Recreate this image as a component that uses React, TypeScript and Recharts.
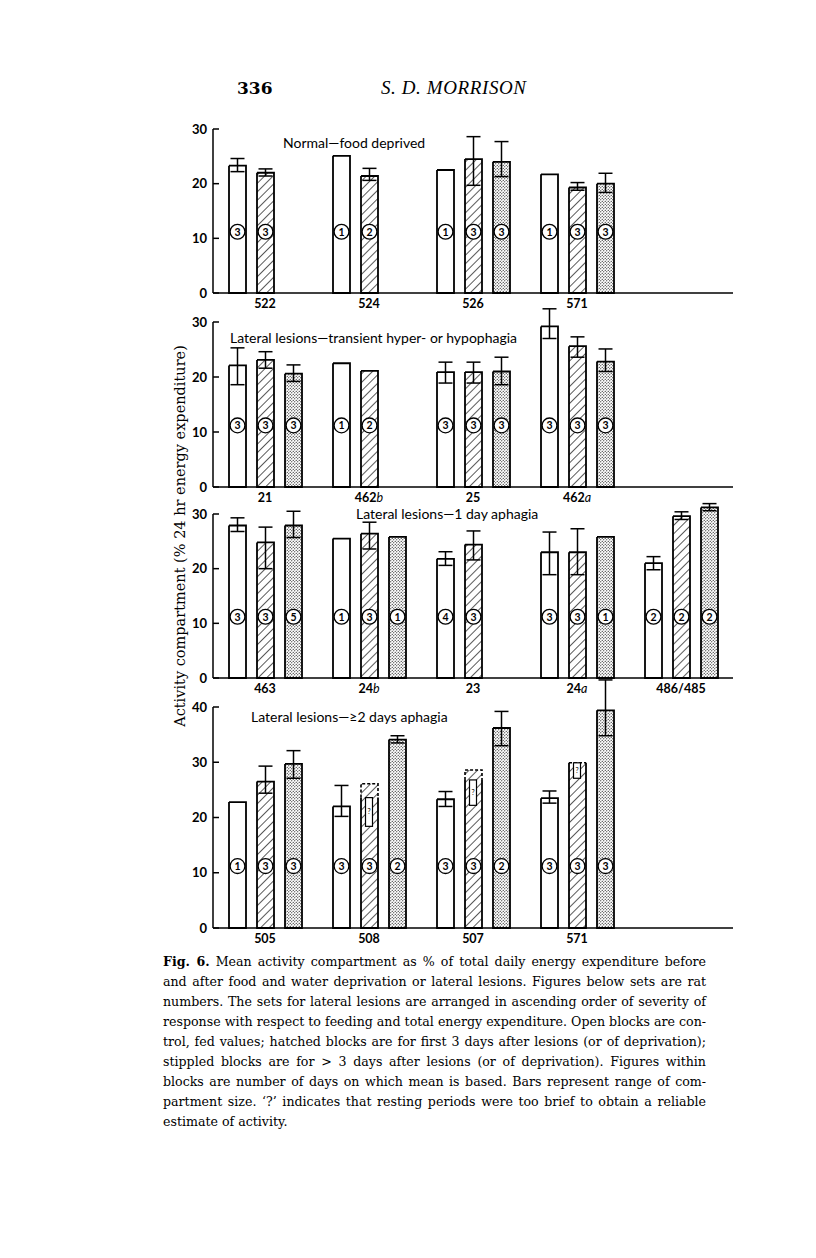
import React from 'react';
import { BarChart, Bar, XAxis, YAxis, ErrorBar } from 'recharts';

type Num = number | null;

// level (in axis units) at which the "days" circles sit
const CIRCLE_AT = 11.2;

// ---- Normal - food deprived
const p1Rats = ['522', '524', '526', '571', ''];
const p1Open: Num[] = [23.3, 25.1, 22.5, 21.7, null];
const p1OpenLo: Num[] = [22.2, null, null, null, null];
const p1OpenHi: Num[] = [24.6, null, null, null, null];
const p1Hatched: Num[] = [22.0, 21.4, 24.5, 19.3, null];
const p1HatchedLo: Num[] = [21.4, 20.6, 19.7, 18.8, null];
const p1HatchedHi: Num[] = [22.7, 22.8, 28.6, 20.2, null];
const p1Stippled: Num[] = [null, null, 24.0, 20.0, null];
const p1StippledLo: Num[] = [null, null, 21.3, 18.4, null];
const p1StippledHi: Num[] = [null, null, 27.7, 21.9, null];
const p1DaysOpen: Num[] = [3, 1, 1, 1, null];
const p1DaysHatched: Num[] = [3, 2, 3, 3, null];
const p1DaysStippled: Num[] = [null, null, 3, 3, null];

// ---- Lateral lesions - transient hyper- or hypophagia
const p2Rats = ['21', '462b', '25', '462a', ''];
const p2Open: Num[] = [22.1, 22.5, 20.9, 29.2, null];
const p2OpenLo: Num[] = [18.6, null, 18.9, 27.0, null];
const p2OpenHi: Num[] = [25.3, null, 22.7, 32.4, null];
const p2Hatched: Num[] = [23.1, 21.1, 20.9, 25.6, null];
const p2HatchedLo: Num[] = [21.6, null, 18.9, 23.6, null];
const p2HatchedHi: Num[] = [24.6, null, 22.7, 27.3, null];
const p2Stippled: Num[] = [20.6, null, 21.0, 22.8, null];
const p2StippledLo: Num[] = [19.2, null, 18.6, 21.0, null];
const p2StippledHi: Num[] = [22.2, null, 23.6, 25.1, null];
const p2DaysOpen: Num[] = [3, 1, 3, 3, null];
const p2DaysHatched: Num[] = [3, 2, 3, 3, null];
const p2DaysStippled: Num[] = [3, null, 3, 3, null];

// ---- Lateral lesions - 1 day aphagia
const p3Rats = ['463', '24b', '23', '24a', '486/485'];
const p3Open: Num[] = [27.9, 25.5, 21.8, 23.0, 21.0];
const p3OpenLo: Num[] = [26.8, null, 20.6, 18.9, 19.8];
const p3OpenHi: Num[] = [29.3, null, 23.1, 26.7, 22.2];
const p3Hatched: Num[] = [24.8, 26.4, 24.4, 23.0, 29.6];
const p3HatchedLo: Num[] = [20.0, 23.6, 21.6, 18.9, 29.0];
const p3HatchedHi: Num[] = [27.6, 28.5, 26.9, 27.3, 30.4];
const p3Stippled: Num[] = [27.9, 25.8, null, 25.8, 31.2];
const p3StippledLo: Num[] = [25.7, null, null, null, 30.6];
const p3StippledHi: Num[] = [30.5, null, null, null, 31.9];
const p3DaysOpen: Num[] = [3, 1, 4, 3, 2];
const p3DaysHatched: Num[] = [3, 3, 3, 3, 2];
const p3DaysStippled: Num[] = [5, 1, null, 1, 2];

// ---- Lateral lesions - >=2 days aphagia
const p4Rats = ['505', '508', '507', '571', ''];
const p4Open: Num[] = [22.8, 22.0, 23.3, 23.5, null];
const p4OpenLo: Num[] = [null, 20.2, 22.0, 22.6, null];
const p4OpenHi: Num[] = [null, 25.8, 24.7, 24.8, null];
const p4Hatched: Num[] = [26.5, 26.1, 28.6, 29.9, null];
const p4HatchedLo: Num[] = [24.4, null, null, null, null];
const p4HatchedHi: Num[] = [29.3, null, null, null, null];
const p4Stippled: Num[] = [29.7, 34.1, 36.2, 39.4, null];
const p4StippledLo: Num[] = [27.1, 33.5, 33.0, 34.8, null];
const p4StippledHi: Num[] = [32.1, 34.8, 39.2, 44.9, null];
const p4DaysOpen: Num[] = [1, 3, 3, 3, null];
const p4DaysHatched: Num[] = [3, 3, 3, 3, null];
const p4DaysStippled: Num[] = [3, 2, 2, 3, null];
// '?' boxes inside the hatched blocks
const p4QueryLo: Num[] = [null, 18.4, 22.2, 27.1, null];
const p4QueryHi: Num[] = [null, 23.6, 26.8, 29.9, null];

const err = (v: Num, lo: Num, hi: Num) =>
  v == null || lo == null || hi == null ? null : [v - lo, hi - v];

function buildRows(s: any) {
  return s.rats.map((rat: string, i: number) => ({
    rat,
    open: s.open[i],
    hatched: s.hatched[i],
    stippled: s.stippled[i],
    openErr: err(s.open[i], s.openLo[i], s.openHi[i]),
    hatchedErr: err(s.hatched[i], s.hatchedLo[i], s.hatchedHi[i]),
    stippledErr: err(s.stippled[i], s.stippledLo[i], s.stippledHi[i]),
    openDays: s.dOpen[i],
    hatchedDays: s.dHatched[i],
    stippledDays: s.dStippled[i],
    qLo: s.qLo ? s.qLo[i] : null,
    qHi: s.qHi ? s.qHi[i] : null,
  }));
}

const rows1 = buildRows({
  rats: p1Rats, open: p1Open, openLo: p1OpenLo, openHi: p1OpenHi,
  hatched: p1Hatched, hatchedLo: p1HatchedLo, hatchedHi: p1HatchedHi,
  stippled: p1Stippled, stippledLo: p1StippledLo, stippledHi: p1StippledHi,
  dOpen: p1DaysOpen, dHatched: p1DaysHatched, dStippled: p1DaysStippled,
});
const rows2 = buildRows({
  rats: p2Rats, open: p2Open, openLo: p2OpenLo, openHi: p2OpenHi,
  hatched: p2Hatched, hatchedLo: p2HatchedLo, hatchedHi: p2HatchedHi,
  stippled: p2Stippled, stippledLo: p2StippledLo, stippledHi: p2StippledHi,
  dOpen: p2DaysOpen, dHatched: p2DaysHatched, dStippled: p2DaysStippled,
});
const rows3 = buildRows({
  rats: p3Rats, open: p3Open, openLo: p3OpenLo, openHi: p3OpenHi,
  hatched: p3Hatched, hatchedLo: p3HatchedLo, hatchedHi: p3HatchedHi,
  stippled: p3Stippled, stippledLo: p3StippledLo, stippledHi: p3StippledHi,
  dOpen: p3DaysOpen, dHatched: p3DaysHatched, dStippled: p3DaysStippled,
});
const rows4 = buildRows({
  rats: p4Rats, open: p4Open, openLo: p4OpenLo, openHi: p4OpenHi,
  hatched: p4Hatched, hatchedLo: p4HatchedLo, hatchedHi: p4HatchedHi,
  stippled: p4Stippled, stippledLo: p4StippledLo, stippledHi: p4StippledHi,
  dOpen: p4DaysOpen, dHatched: p4DaysHatched, dStippled: p4DaysStippled,
  qLo: p4QueryLo, qHi: p4QueryHi,
});

const SANS = 'Lato, "DejaVu Sans", sans-serif';
const SERIF = '"DejaVu Serif", serif';

const FILLS: Record<string, string> = {
  open: '#ffffff',
  hatched: 'url(#hatch)',
  stippled: 'url(#stipple)',
};

function barShape(kind: string) {
  return (props: any) => {
    const { x, y, width, height, payload } = props;
    const v = payload ? payload[kind] : null;
    if (v == null || !(height > 0)) return <g />;
    const ppu = height / v;
    const base = y + height;
    const cx = x + width / 2;
    const cy = base - ppu * CIRCLE_AT;
    const days = payload[kind + 'Days'];
    const qLo = kind === 'hatched' ? payload.qLo : null;
    const qHi = kind === 'hatched' ? payload.qHi : null;
    const hasQ = qLo != null && qHi != null;
    const yq = hasQ ? Math.max(y, base - ppu * qHi) : y;
    return (
      <g>
        <rect x={x} y={y} width={width} height={height} fill={FILLS[kind]} stroke="none" />
        <path
          d={`M${x},${yq} L${x},${base} L${x + width},${base} L${x + width},${yq}` + (hasQ ? '' : ` L${x},${yq}`)}
          fill="none"
          stroke="#000"
          strokeWidth={1.8}
        />
        {hasQ && (
          <path
            d={`M${x},${yq} L${x},${y} L${x + width},${y} L${x + width},${yq}`}
            fill="none"
            stroke="#000"
            strokeWidth={1.6}
            strokeDasharray="3 2"
          />
        )}
        {days != null && (
          <g>
            <circle cx={cx} cy={cy} r={7.4} fill="#fff" stroke="#000" strokeWidth={1.3} />
            <text x={cx} y={cy} dy="0.36em" textAnchor="middle" fontSize={10.5} fontWeight={700} fontFamily={SANS}>
              {days}
            </text>
          </g>
        )}
        {hasQ && (
          <g>
            <rect
              x={cx - 4}
              y={base - ppu * qHi}
              width={7}
              height={ppu * (qHi - qLo)}
              fill="#fff"
              stroke="#000"
              strokeWidth={1.2}
            />
            <text x={cx - 0.5} y={base - (ppu * (qHi + qLo)) / 2} dy="0.35em" textAnchor="middle" fontSize={7} fontFamily={SANS}>
              ?
            </text>
          </g>
        )}
      </g>
    );
  };
}

const YTick = (props: any) => {
  const { x, y, payload } = props;
  return (
    <g>
      <line x1={x + 5} x2={x + 11} y1={y} y2={y} stroke="#000" strokeWidth={1.5} />
      <text x={x - 1} y={y} dy="0.36em" textAnchor="end" fontSize={13} fontWeight={700} fontFamily={SANS} fill="#000">
        {payload.value}
      </text>
    </g>
  );
};

const XTick = (props: any) => {
  const { x, y, payload } = props;
  const label = String(payload.value ?? '');
  const m = label.match(/^(\d+)([a-z])$/);
  return (
    <text x={x} y={y} dy="0.72em" textAnchor="middle" fontSize={12.5} fontWeight={700} fontFamily={SANS} fill="#000">
      {m ? (
        <>
          <tspan>{m[1]}</tspan>
          <tspan fontStyle="italic" fontWeight={400}>{m[2]}</tspan>
        </>
      ) : (
        label
      )}
    </text>
  );
};

const MARGIN_TOP = 20;
const AXIS_H = 30;

function Panel(props: {
  rows: any[];
  plotTop: number;
  plotH: number;
  max: number;
  ticks: number[];
  title: string;
  titleX: number;
  titleY: number;
}) {
  const { rows, plotTop, plotH, max, ticks, title, titleX, titleY } = props;
  return (
    <>
      <div style={{ position: 'absolute', left: 0, top: plotTop - MARGIN_TOP }}>
        <BarChart
          width={816}
          height={MARGIN_TOP + plotH + AXIS_H}
          data={rows}
          margin={{ top: MARGIN_TOP, right: 83, bottom: 0, left: 173 }}
          barSize={17}
          barGap={11}
        >
          <XAxis
            dataKey="rat"
            interval={0}
            height={AXIS_H}
            tickLine={false}
            tickMargin={0}
            axisLine={{ stroke: '#000', strokeWidth: 1.5 }}
            tick={<XTick />}
          />
          <YAxis
            type="number"
            domain={[0, max]}
            allowDataOverflow
            ticks={ticks}
            width={40}
            tickSize={0}
            tickMargin={5}
            axisLine={{ stroke: '#000', strokeWidth: 1.5 }}
            tick={<YTick />}
          />
          <Bar dataKey="open" isAnimationActive={false} shape={barShape('open')}>
            <ErrorBar dataKey="openErr" width={7} stroke="#000" strokeWidth={1.5} direction="y" isAnimationActive={false} />
          </Bar>
          <Bar dataKey="hatched" isAnimationActive={false} shape={barShape('hatched')}>
            <ErrorBar dataKey="hatchedErr" width={7} stroke="#000" strokeWidth={1.5} direction="y" isAnimationActive={false} />
          </Bar>
          <Bar dataKey="stippled" isAnimationActive={false} shape={barShape('stippled')}>
            <ErrorBar dataKey="stippledErr" width={7} stroke="#000" strokeWidth={1.5} direction="y" isAnimationActive={false} />
          </Bar>
        </BarChart>
      </div>
      <div
        style={{
          position: 'absolute',
          left: titleX,
          top: titleY - 7,
          height: 14,
          lineHeight: '14px',
          fontFamily: SANS,
          fontSize: 14,
          whiteSpace: 'nowrap',
        }}
      >
        {title}
      </div>
    </>
  );
}

const captionLines = [
  'and after food and water deprivation or lateral lesions. Figures below sets are rat',
  'numbers. The sets for lateral lesions are arranged in ascending order of severity of',
  'response with respect to feeding and total energy expenditure. Open blocks are con-',
  'trol, fed values; hatched blocks are for first 3 days after lesions (or of deprivation);',
  'stippled blocks are for > 3 days after lesions (or of deprivation). Figures within',
  'blocks are number of days on which mean is based. Bars represent range of com-',
  'partment size. \u2018?\u2019 indicates that resting periods were too brief to obtain a reliable',
];

export default function App() {
  const lineStyle: React.CSSProperties = {
    textAlign: 'justify',
    textAlignLast: 'justify',
    whiteSpace: 'nowrap',
    height: 20,
  };
  return (
    <div style={{ position: 'absolute', left: 0, top: 0, width: 816, height: 1258, background: '#fff', color: '#000' }}>
      <style>{'.recharts-surface{overflow:visible} .recharts-wrapper [clip-path]{clip-path:none !important}'}</style>
      <svg width={0} height={0} style={{ position: 'absolute' }}>
        <defs>
          <pattern id="hatch" width={6} height={6} patternUnits="userSpaceOnUse" patternTransform="rotate(45)">
            <rect width={6} height={6} fill="#fff" />
            <line x1={0} y1={0} x2={0} y2={6} stroke="#000" strokeWidth={1.3} />
          </pattern>
          <pattern id="stipple" width={3} height={3} patternUnits="userSpaceOnUse">
            <rect width={3} height={3} fill="#fff" />
            <circle cx={0.75} cy={0.75} r={0.62} fill="#000" />
            <circle cx={2.25} cy={2.25} r={0.62} fill="#000" />
          </pattern>
        </defs>
      </svg>

      <div style={{ position: 'absolute', left: 237, top: 76, fontFamily: SERIF, fontWeight: 700, fontSize: 17, lineHeight: '24px' }}>
        336
      </div>
      <div style={{ position: 'absolute', left: 381, top: 76, fontFamily: '"Liberation Serif", serif', fontStyle: 'italic', fontSize: 19, lineHeight: '24px', letterSpacing: 0.6 }}>
        S. D. MORRISON
      </div>

      <Panel rows={rows1} plotTop={129} plotH={164} max={30} ticks={[0, 10, 20, 30]} title="Normal—food deprived" titleX={283} titleY={143} />
      <Panel rows={rows2} plotTop={322} plotH={165} max={30} ticks={[0, 10, 20, 30]} title="Lateral lesions—transient hyper- or hypophagia" titleX={230} titleY={338} />
      <Panel rows={rows3} plotTop={514} plotH={164} max={30} ticks={[0, 10, 20, 30]} title="Lateral lesions—1 day aphagia" titleX={356} titleY={514} />
      <Panel rows={rows4} plotTop={707} plotH={221} max={40} ticks={[0, 10, 20, 30, 40]} title="Lateral lesions—≥2 days aphagia" titleX={251} titleY={717} />

      <div
        style={{
          position: 'absolute',
          left: 180 - 220,
          top: 536 - 10,
          width: 440,
          height: 20,
          lineHeight: '20px',
          textAlign: 'center',
          transform: 'rotate(-90deg)',
          fontFamily: SERIF,
          fontSize: 14.5,
          whiteSpace: 'nowrap',
        }}
      >
        Activity compartment (% 24 hr energy expenditure)
      </div>

      <div style={{ position: 'absolute', left: 163, top: 952, width: 543, fontFamily: SERIF, fontSize: 12.6, lineHeight: '20px' }}>
        <div style={lineStyle}>
          <b>Fig. 6.</b> Mean activity compartment as % of total daily energy expenditure before
        </div>
        {captionLines.map((l) => (
          <div key={l} style={lineStyle}>
            {l}
          </div>
        ))}
        <div style={{ height: 20 }}>estimate of activity.</div>
      </div>
    </div>
  );
}
